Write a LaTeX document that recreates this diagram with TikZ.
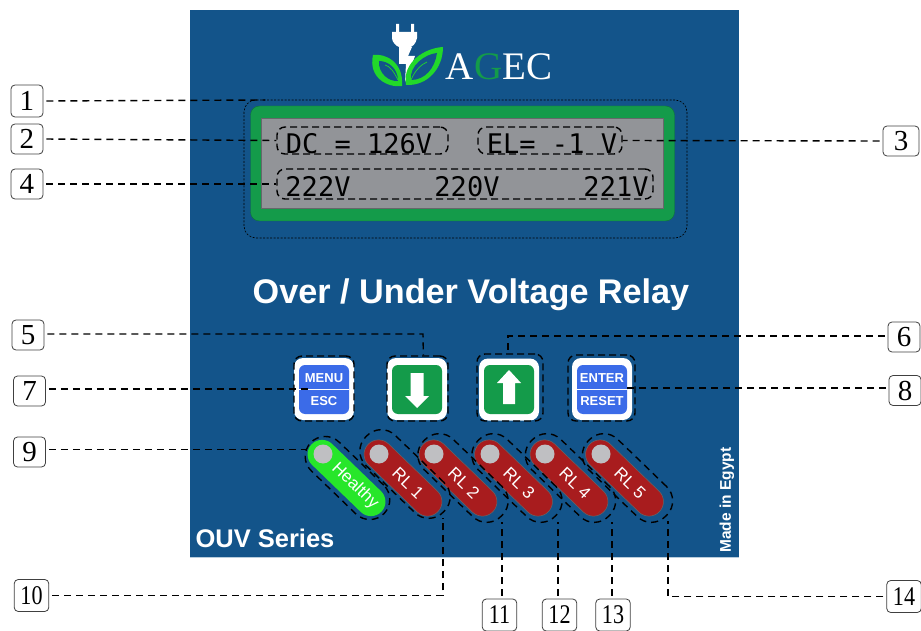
\documentclass[tikz,border=0pt]{standalone}
\usepackage{fontspec}
\setmainfont{Liberation Sans}
\newfontfamily\numfont{Liberation Serif}
\newfontfamily\pairfont[FakeStretch=0.82]{Liberation Serif}
\newfontfamily\lcdfont{DejaVu Sans Mono}
\definecolor{panelblue}{HTML}{13548A}
\definecolor{framegreen}{HTML}{149B4A}
\definecolor{lcdgray}{HTML}{929498}
\definecolor{keyblue}{HTML}{3B6BE8}
\definecolor{relayred}{HTML}{A81C1E}
\definecolor{okgreen}{HTML}{27E62A}
\definecolor{leafgreen}{HTML}{22D82A}
\definecolor{lampgray}{HTML}{BFBFC2}
\begin{document}
\begin{tikzpicture}[x=1pt,y=-1pt,
numbox/.style={draw=black!75,line width=0.8pt,rounded corners=4,fill=white,minimum width=32,minimum height=30,inner sep=0,font=\numfont\fontsize{29}{30}\selectfont},
pairbox/.style={numbox,minimum width=34.5,minimum height=32,font=\pairfont\fontsize{27}{30}\selectfont},
lead/.style={draw=black,line width=1.4pt,dash pattern=on 7pt off 5pt,shorten <=3pt},
ringbox/.style={draw=black,line width=1.4pt,dash pattern=on 7pt off 4pt,rounded corners=8,inner sep=0},
ledring/.style={draw=black,line width=1.4pt,dash pattern=on 7pt off 5pt,rounded corners=20,minimum width=108,minimum height=42,rotate=-44,inner sep=0},
lcdtext/.style={inner sep=0,anchor=base,text=black,font=\lcdfont\fontsize{27}{30}\selectfont},
keytext/.style={inner sep=0,text=white,font=\bfseries\fontsize{13}{15}\selectfont},
keyframe/.style={fill=white,rounded corners=9,minimum width=60,minimum height=62,inner sep=0},
keyface/.style={rounded corners=6,minimum width=50,minimum height=49,inner sep=0},
pill/.style={rounded corners=14.5,minimum width=97,minimum height=29,rotate=-44,inner sep=0,draw=black!20!gray,line width=0.5pt},
lamp/.style={circle,fill=lampgray,minimum size=19,inner sep=0},
pilltext/.style={inner sep=0,text=white,rotate=-44,font=\fontsize{17}{19}\selectfont}]
\useasboundingbox (0,0) rectangle (921,631);
\fill[panelblue] (190,10) rectangle (739,558);
\fill[white!70!panelblue] (190,556.5) rectangle (739,558);
% logo
\fill[white] (396,24) rectangle (399,33) (411,24) rectangle (414,33);
\fill[white] (392,32) -- (417,32) -- (417,38) .. controls (416,44) and (412,47) .. (410,47) -- (399,47) .. controls (396,46) and (392,42) .. (392,38) -- cycle;
\fill[white] (399,47) -- (412,47) -- (408,56) -- (415,56) -- (405,82) -- (406,64) -- (399,64) -- cycle;
\fill[leafgreen] (373,55) .. controls (385,53) and (404,62) .. (402,86) .. controls (388,88) and (368,78) .. (373,55) -- cycle;
\fill[panelblue] (379,61) .. controls (388,61) and (398,68) .. (398,81) .. controls (390,82) and (378,74) .. (379,61) -- cycle;
\fill[leafgreen] (443,47) .. controls (443,68) and (428,86) .. (406,85) .. controls (402,62) and (425,48) .. (443,47) -- cycle;
\fill[panelblue] (437,53) .. controls (435,68) and (425,80) .. (411,80) .. controls (409,66) and (425,54) .. (437,53) -- cycle;
\draw[leafgreen,line width=0.7pt] (398,80) .. controls (394,72) and (390,66) .. (385,65) (411,80) .. controls (415,70) and (422,64) .. (427,62);
\node[inner sep=0,text=white,font=\numfont\fontsize{39}{40}\selectfont] (brand) at (499,67) {A\textcolor{framegreen}{G}EC};
% display
\node[draw=black,line width=0.6pt,dash pattern=on 2pt off 1.5pt,rounded corners=12,minimum width=443,minimum height=138,inner sep=0] (outer) at (465.5,169) {};
\node[fill=framegreen,draw=black!25!framegreen,rounded corners=9,minimum width=424,minimum height=115,inner sep=0] (bezel) at (462.5,163.5) {};
\node[fill=lcdgray,draw=black!30!lcdgray,minimum width=402,minimum height=90,inner sep=0] (lcd) at (462,163.5) {};
\node[lcdtext] (dcval) at (359,153.5) {DC = 126V};
\node[lcdtext] (elval) at (552,153.5) {EL= -1 V};
\node[lcdtext] (phasea) at (318,197) {222V};
\node[lcdtext] (phaseb) at (467,197) {220V};
\node[lcdtext] (phasec) at (616,197) {221V};
\node[ringbox,minimum width=171,minimum height=27] (dcring) at (362.5,140.5) {};
\node[ringbox,minimum width=144,minimum height=27] (elring) at (550,140.5) {};
\node[ringbox,minimum width=376,minimum height=30] (rowring) at (465,184) {};
\node[inner sep=0,anchor=base,text=white,font=\bfseries\fontsize{34.2}{36}\selectfont] (title) at (471,303) {Over / Under Voltage Relay};
% keys
\node[keyframe] (menu) at (324,389) {};
\node[keyface,fill=keyblue] (menuface) at (324,389.5) {};
\draw[white,line width=0.8pt] (menuface.west) -- (menuface.east);
\node[keytext] (menutext) at (324,378) {MENU};
\node[keytext] (esctext) at (324,401) {ESC};
\node[keyframe] (down) at (417,389) {};
\node[keyface,fill=framegreen] (downface) at (417,389.5) {};
\fill[white] (410.5,373) -- (423.5,373) -- (423.5,396) -- (429,396) -- (417,408) -- (405,396) -- (410.5,396) -- cycle;
\node[keyframe] (up) at (509,389.5) {};
\node[keyface,fill=framegreen] (upface) at (509,389.5) {};
\fill[white] (503,404) -- (515,404) -- (515,383) -- (521,383) -- (509,370) -- (497,383) -- (503,383) -- cycle;
\node[keyframe] (enter) at (602,389) {};
\node[keyface,fill=keyblue] (enterface) at (602,389.5) {};
\draw[white,line width=0.8pt] (enterface.west) -- (enterface.east);
\node[keytext] (entertext) at (602,378) {ENTER};
\node[keytext] (resettext) at (602,401) {RESET};
\node[ringbox,minimum width=60,minimum height=65] (menuring) at (324,388.5) {};
\node[ringbox,minimum width=61,minimum height=65] (downring) at (417.5,388.5) {};
\node[ringbox,minimum width=66,minimum height=67] (upring) at (510,387.5) {};
\node[ringbox,minimum width=67,minimum height=66] (enterring) at (601.5,388) {};
% leds
\node[pill,fill=okgreen,draw=none] (healthy) at (346.5,478) {};
\node[pill,fill=relayred] (rla) at (403,478) {};
\node[pill,fill=relayred] (rlb) at (458,478) {};
\node[pill,fill=relayred] (rlc) at (513.5,478) {};
\node[pill,fill=relayred] (rld) at (569,478) {};
\node[pill,fill=relayred] (rle) at (624.5,478) {};
\node[lamp] (lamph) at (323,454) {};
\node[lamp] (lampa) at (379,454) {};
\node[lamp] (lampb) at (434,454) {};
\node[lamp] (lampc) at (490,454) {};
\node[lamp] (lampd) at (545,454) {};
\node[lamp] (lampe) at (601,454) {};
\node[pilltext] (texth) at (355,486) {Healthy};
\node[pilltext] (texta) at (408,483) {RL 1};
\node[pilltext] (textb) at (464,483) {RL 2};
\node[pilltext] (textc) at (519,483) {RL 3};
\node[pilltext] (textd) at (575,483) {RL 4};
\node[pilltext] (texte) at (630,483) {RL 5};
\node[ledring,minimum width=102,minimum height=40] (ringh) at (347.5,478) {};
\node[ledring] (ringa) at (405,474) {};
\node[ledring] (ringb) at (463,478) {};
\node[ledring] (ringc) at (517,478) {};
\node[ledring] (ringd) at (570.5,478) {};
\node[ledring] (ringe) at (627.5,478) {};
\node[inner sep=0,anchor=base,text=white,font=\bfseries\fontsize{25.5}{27}\selectfont] (series) at (265,547) {OUV Series};
\node[inner sep=0,text=white,rotate=90,font=\bfseries\fontsize{15.5}{17}\selectfont] (origin) at (727,500) {Made in Egypt};
% callouts
\node[numbox,minimum height=32] (na) at (27,101) {1};
\node[numbox] (nb) at (27,139) {2};
\node[numbox,minimum width=36] (nc) at (901,141) {3};
\node[numbox] (nd) at (27,184) {4};
\node[numbox] (ne) at (28,335) {5};
\node[numbox] (nf) at (904,337) {6};
\node[numbox] (ng) at (29.5,391) {7};
\node[numbox] (nh) at (905,390.5) {8};
\node[numbox] (ni) at (29.5,452) {9};
\node[pairbox] (nj) at (31.5,595.5) {10};
\node[pairbox] (nk) at (499.5,615) {11};
\node[pairbox] (nl) at (559.5,615) {12};
\node[pairbox] (nm) at (613,615) {13};
\node[pairbox] (nn) at (904,596.5) {14};
\coordinate (ca) at (265,100);
\coordinate (ce) at (423,334);
\coordinate (cf) at (508,336);
\coordinate (cg) at (308,389);
\coordinate (ch) at (622,388);
\coordinate (ci) at (307,449.5);
\coordinate (cj) at (443,518);
\coordinate (ck) at (502,522);
\coordinate (cl) at (558,522);
\coordinate (cm) at (612,522);
\coordinate (cn) at (668,521);
\draw[lead] (na.east) -- (ca);
\draw[lead] (nb.east) -- (dcring.west);
\draw[lead] (nc.west) -- (elring.east);
\draw[lead] (nd.east) -- (rowring.west);
\draw[lead] (ne.east |- ce) -- (ce) -- (downring.80);
\draw[lead] (nf.west |- cf) -- (cf) -- (upring.north -| cf);
\draw[lead] (ng.east |- cg) -- (cg);
\draw[lead] (nh.west |- ch) -- (ch);
\draw[lead] (ni.east |- ci) -- (ci);
\draw[lead] (nj.east) -| (cj);
\draw[lead] (ck |- nk.north) -- (ck);
\draw[lead] (cl |- nl.north) -- (cl);
\draw[lead] (cm |- nm.north) -- (cm);
\draw[lead] (nn.west) -| (cn);
\end{tikzpicture}
\end{document}
